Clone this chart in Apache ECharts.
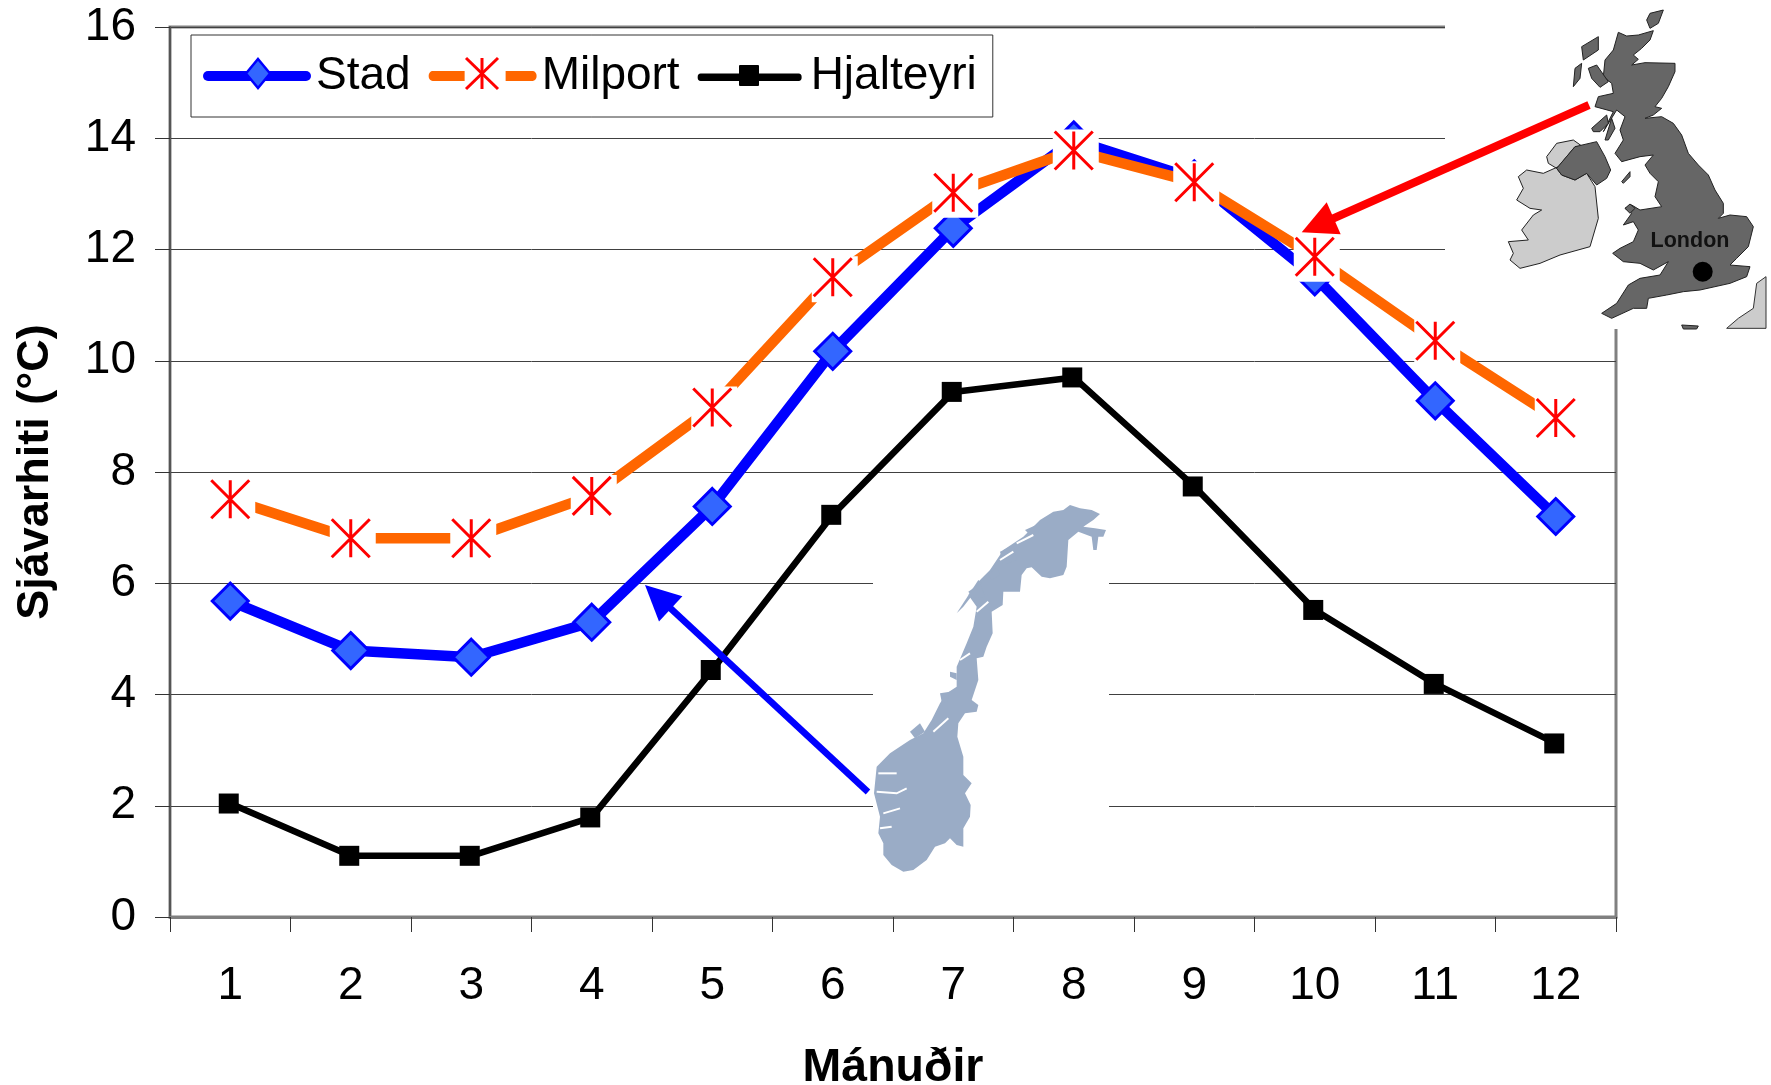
<!DOCTYPE html>
<html>
<head>
<meta charset="utf-8">
<style>html,body{margin:0;padding:0;background:#fff}#c{width:1771px;height:1085px}</style>
<script src="https://cdn.jsdelivr.net/npm/echarts@6/dist/echarts.min.js"></script>
</head>
<body>
<div id="c"></div>
<script>
const months = ['1','2','3','4','5','6','7','8','9','10','11','12'];
const stad = [5.68,4.79,4.67,5.30,7.38,10.17,12.38,13.97,13.27,11.51,9.28,7.20];
const milport = [7.51,6.81,6.81,7.57,9.16,11.50,13.02,13.78,13.21,11.87,10.36,8.97];
const hjalteyri = [2.04,1.10,1.10,1.79,4.44,7.23,9.44,9.70,7.74,5.52,4.19,3.12];

const FONT = '"Liberation Sans", Arial, sans-serif';
const ASTERISK = 'path://M0 0L38 38M38 0L0 38M19 0L19 38';

// Outlines for the two map illustrations, traced in 3x crop coordinates
const UK_ORIGIN = [1250, 0], NO_ORIGIN = [800, 480];
const greatBritain = [[1105,97],[1130,108],[1165,105],[1210,92],[1200,120],[1175,145],[1150,165],[1165,178],[1145,195],[1185,188],[1275,190],[1275,215],[1255,260],[1235,295],[1215,320],[1235,325],[1210,345],[1185,355],[1235,350],[1270,370],[1295,405],[1315,460],[1345,495],[1375,525],[1395,570],[1420,610],[1420,640],[1405,655],[1440,645],[1490,650],[1510,680],[1495,740],[1460,775],[1440,795],[1500,800],[1490,830],[1440,850],[1350,870],[1300,875],[1250,885],[1195,895],[1190,925],[1150,925],[1085,955],[1055,940],[1100,910],[1135,855],[1170,835],[1230,825],[1255,785],[1210,810],[1170,790],[1120,785],[1088,760],[1110,745],[1150,725],[1165,690],[1150,665],[1120,675],[1145,640],[1125,625],[1145,615],[1170,630],[1235,620],[1215,590],[1225,545],[1200,520],[1185,495],[1210,465],[1170,470],[1115,485],[1095,460],[1120,420],[1110,390],[1125,350],[1100,330],[1060,395],[1090,335],[1035,320],[1045,290],[1090,280],[1085,250],[1060,230],[1065,180],[1090,150]];
const northIreland = [[920,505],[975,440],[1040,425],[1065,470],[1082,510],[1070,535],[1040,555],[1010,520],[975,540],[935,525]];
const ireland = [[890,470],[920,430],[970,420],[998,440],[975,440],[925,500],[880,520],[830,510],[805,530],[820,565],[800,600],[840,625],[875,630],[850,645],[815,690],[835,720],[775,725],[790,760],[780,780],[810,805],[870,790],[930,765],[1020,740],[1045,655],[1035,560],[1010,520],[975,540],[935,525],[920,505],[895,490]];
const ukIslands = [
  [[995,140],[1045,110],[1045,150],[1000,180]],
  [[975,205],[995,190],[990,235],[970,260]],
  [[1015,205],[1040,195],[1075,245],[1050,262],[1025,235]],
  [[1190,60],[1200,40],[1240,30],[1225,70],[1200,85]],
  [[1025,385],[1070,345],[1075,370],[1050,395],[1030,395]],
  [[1065,420],[1085,355],[1095,385],[1075,420]],
  [[1115,545],[1140,515],[1140,530],[1120,550]],
  [[1125,625],[1140,612],[1155,625],[1140,640]],
  [[1295,975],[1345,978],[1340,987],[1300,987]]
];
const france = [[1430,985],[1465,955],[1510,925],[1520,850],[1548,830],[1548,985]];
const norway = [[810,75],[840,85],[875,90],[900,102],[880,120],[850,140],[885,145],[918,150],[910,170],[895,170],[890,210],[880,210],[875,170],[835,155],[805,180],[800,260],[790,285],[750,295],[725,290],[695,262],[680,265],[665,285],[660,335],[610,335],[608,375],[575,395],[578,460],[560,500],[550,530],[530,535],[535,600],[515,660],[535,675],[530,695],[495,700],[475,730],[472,770],[490,830],[490,885],[515,910],[495,940],[512,975],[510,1010],[490,1045],[490,1100],[470,1095],[450,1075],[435,1090],[405,1100],[380,1140],[340,1170],[310,1175],[275,1155],[250,1125],[250,1090],[235,1060],[240,1010],[222,940],[230,860],[270,820],[330,780],[370,760],[395,720],[420,670],[440,640],[470,620],[470,560],[500,490],[520,440],[530,380],[505,345],[540,300],[570,270],[610,210],[670,170],[720,120],[760,95],[790,90]];
const norwayIslands = [
  [[470,400],[535,300],[545,310],[490,380]],
  [[565,285],[590,262],[600,285],[575,300]],
  [[600,215],[640,195],[650,240],[610,255]],
  [[675,150],[720,130],[715,165],[690,165]],
  [[505,335],[540,310],[555,350],[520,355]],
  [[420,640],[450,635],[440,670],[425,665]],
  [[330,755],[360,730],[375,755],[345,775]],
  [[450,575],[470,580],[470,600],[450,590]]
];
const fjords = [
  [[230,935],[290,940],[320,925]],
  [[235,880],[290,880]],
  [[250,1000],[300,985]],
  [[240,1045],[275,1040]],
  [[400,755],[445,715]],
  [[600,240],[640,215]],
  [[650,190],[700,165]],
  [[530,395],[565,365]],
  [[480,540],[510,520]]
];

const scale = (pts, o) => pts.map(p => [o[0] + p[0] / 3, o[1] + p[1] / 3]);
const poly = (pts, o, fill, stroke, z) => ({
  type: 'polygon', silent: true, z, shape: { points: scale(pts, o) },
  style: { fill, stroke: stroke || null, lineWidth: stroke ? 1 : 0 }
});
const line = (points, stroke, lineWidth, z, cap) => ({
  type: 'polyline', silent: true, z, shape: { points },
  style: { stroke, lineWidth, fill: null, lineCap: cap || 'butt' }
});

const graphics = [
  // white backgrounds of the pasted map pictures hide the grid
  { type: 'rect', silent: true, z: 1, shape: { x: 1445, y: 0, width: 326, height: 329 }, style: { fill: '#fff' } },
  { type: 'rect', silent: true, z: 1, shape: { x: 873, y: 490, width: 236, height: 410 }, style: { fill: '#fff' } },
  poly(france, UK_ORIGIN, '#cccccc', '#333', 1),
  poly(ireland, UK_ORIGIN, '#cccccc', '#222', 1),
  poly(greatBritain, UK_ORIGIN, '#666666', '#222', 1),
  poly(northIreland, UK_ORIGIN, '#666666', '#222', 1),
  ...ukIslands.map(p => poly(p, UK_ORIGIN, '#666666', '#222', 1)),
  { type: 'circle', silent: true, z: 1, shape: { cx: 1702.7, cy: 271.7, r: 10 }, style: { fill: '#000' } },
  { type: 'text', silent: true, z: 1, style: { x: 1690, y: 241, text: 'London', fill: '#111', align: 'center', verticalAlign: 'middle', font: 'bold 21.5px ' + FONT } },
  poly(norway, NO_ORIGIN, '#9aacc6', null, 1),
  ...norwayIslands.map(p => poly(p, NO_ORIGIN, '#9aacc6', null, 1)),
  ...fjords.map(p => line(scale(p, NO_ORIGIN), '#fff', 2, 1)),
  // arrows
  line([[868,792],[668,606]], '#0000ff', 6.5, 20),
  { type: 'polygon', silent: true, z: 20, shape: { points: [[645,585],[682.4,596.2],[659,621.4]] }, style: { fill: '#0000ff' } },
  line([[1589,105],[1332,219]], '#ff0000', 8, 20),
  { type: 'polygon', silent: true, z: 20, shape: { points: [[1301.7,232.3],[1326.7,202.3],[1340.7,234.3]] }, style: { fill: '#ff0000' } },
  // legend markers on top of the legend's line samples
  { type: 'polygon', silent: true, z: 20, shape: { points: [[258,59],[270,73.5],[258,88],[246,73.5]] }, style: { fill: '#3366ff', stroke: '#0000ff', lineWidth: 2.5 } },
  line([[466,58],[498,89]], '#ff0000', 3, 20),
  line([[498,58],[466,89]], '#ff0000', 3, 20),
  line([[482,58],[482,89]], '#ff0000', 3, 20),
  { type: 'rect', silent: true, z: 20, shape: { x: 739, y: 65, width: 20, height: 21, r: 1 }, style: { fill: '#000' } }
];

const chart = echarts.init(document.getElementById('c'), null, { renderer: 'canvas', width: 1771, height: 1085 });
chart.setOption({
  animation: false,
  backgroundColor: '#fff',
  textStyle: { fontFamily: FONT },
  grid: { left: 170, right: 155, top: 27, height: 890, outerBoundsMode: 'none', show: true, borderColor: '#808080', borderWidth: 3, backgroundColor: 'transparent', z: 0 },
  legend: {
    left: 191, top: 35, orient: 'horizontal',
    padding: [18, 16, 18, 12],
    itemWidth: 108, itemHeight: 10, itemGap: 18,
    symbolKeepAspect: false,
    backgroundColor: '#fff', borderColor: '#333', borderWidth: 1,
    selectedMode: false,
    textStyle: { fontFamily: FONT, fontSize: 46, color: '#000' },
    data: [
      { name: 'Stad', icon: 'path://M5 0H103A5 5 0 0 1 103 10H5A5 5 0 0 1 5 0Z', itemStyle: { color: '#0000ff', borderWidth: 0 } },
      { name: 'Milport', icon: 'path://M4 0H36V10H4A4 5 0 0 1 4 0ZM77 0H104A4 5 0 0 1 104 10H77Z', itemStyle: { color: '#ff6600', borderWidth: 0 } },
      { name: 'Hjalteyri', icon: 'path://M0 0H0.01V0ZM108 0H108V0ZM3 2H101A3 3 0 0 1 101 8H3A3 3 0 0 1 3 2Z', itemStyle: { color: '#000', borderWidth: 0 } }
    ]
  },
  xAxis: {
    type: 'category', data: months, boundaryGap: true,
    name: 'Mánuðir', nameLocation: 'middle', nameGap: 128,
    nameTextStyle: { fontFamily: FONT, fontSize: 46.5, fontWeight: 'bold', color: '#000' },
    axisLine: { show: true, lineStyle: { color: '#808080', width: 3 } },
    axisTick: { show: true, length: 15, alignWithLabel: false, lineStyle: { color: '#333', width: 1 } },
    axisLabel: { fontFamily: FONT, fontSize: 46, color: '#000', margin: 46, interval: 0 },
    splitLine: { show: false }
  },
  yAxis: {
    type: 'value', min: 0, max: 16, interval: 2,
    name: 'Sjávarhiti (°C)', nameLocation: 'middle', nameGap: 112, nameRotate: 90,
    nameTextStyle: { fontFamily: FONT, fontSize: 45, fontWeight: 'bold', color: '#000' },
    axisLine: { show: true, lineStyle: { color: '#555', width: 2 } },
    axisTick: { show: true, length: 15, lineStyle: { color: '#333', width: 1 } },
    axisLabel: { fontFamily: FONT, fontSize: 46, color: '#000', margin: 34, padding: [6, 0, 0, 0] },
    splitLine: { show: true, lineStyle: { color: '#404040', width: 1 } }
  },
  series: [
    { name: 'Hjalteyri', type: 'line', z: 3, data: hjalteyri, silent: true, showAllSymbol: true,
      symbol: 'rect', symbolSize: 20, symbolOffset: [-1.5, 0],
      lineStyle: { color: '#000', width: 6.5 }, itemStyle: { color: '#000' } },
    { name: 'Stad', type: 'line', z: 4, data: stad, silent: true, showAllSymbol: true,
      symbol: 'diamond', symbolSize: 36,
      lineStyle: { color: '#0000ff', width: 10.5 }, itemStyle: { color: '#3366ff', borderColor: '#0000ff', borderWidth: 3 } },
    { name: 'Milport', type: 'line', z: 5, data: milport, silent: true, symbol: 'none',
      lineStyle: { color: '#ff6600', width: 10.5 }, itemStyle: { color: '#ff6600' } },
    { name: 'Milport box', type: 'scatter', z: 6, data: milport, silent: true,
      symbol: 'rect', symbolSize: 46, symbolOffset: [2, 2], itemStyle: { color: '#fff', opacity: 1 } },
    { name: 'Milport marker', type: 'scatter', z: 7, data: milport, silent: true,
      symbol: ASTERISK, symbolSize: 38, symbolKeepAspect: true,
      itemStyle: { color: 'transparent', borderColor: '#ff0000', borderWidth: 3, opacity: 1 } }
  ],
  graphic: { elements: graphics }
});
</script>
</body>
</html>
